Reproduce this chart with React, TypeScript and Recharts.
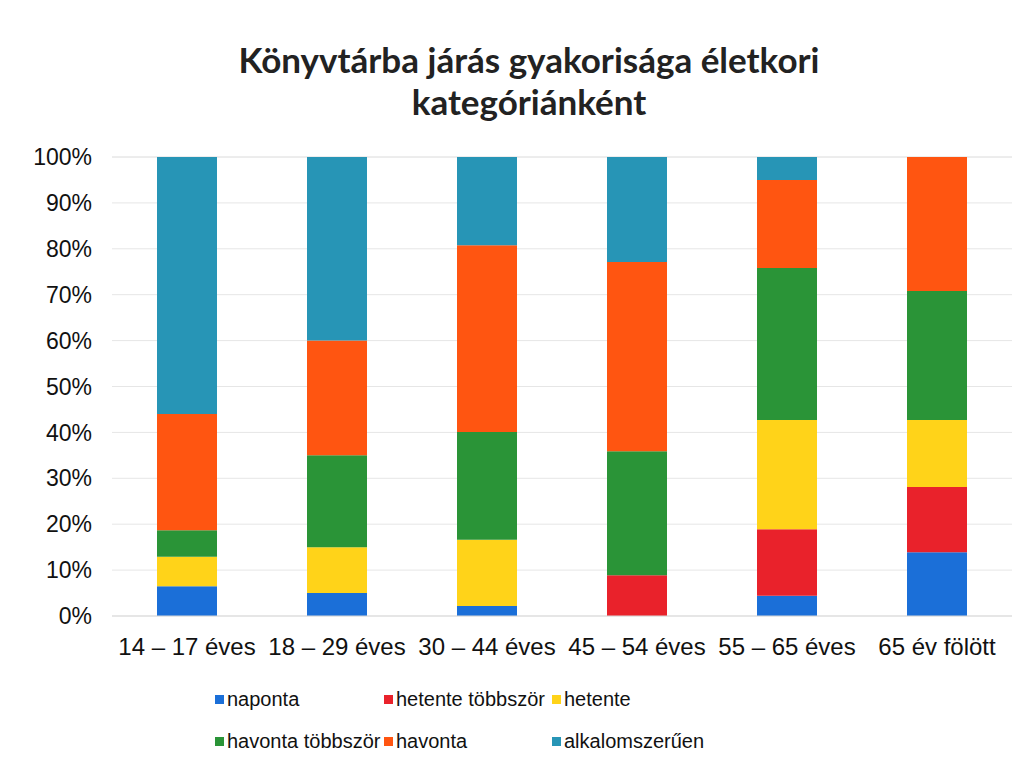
import React from "react";
import { BarChart, Bar, XAxis, YAxis, CartesianGrid } from "recharts";

const categories = ["14 – 17 éves", "18 – 29 éves", "30 – 44 éves", "45 – 54 éves", "55 – 65 éves", "65 év fölött"];
const naponta = [6.5, 5.0, 2.2, 0, 4.4, 13.9];
const hetenteTobbszor = [0, 0, 0, 8.9, 14.5, 14.2];
const hetente = [6.4, 10.0, 14.4, 0, 23.8, 14.6];
const havontaTobbszor = [5.8, 20.0, 23.5, 27.0, 33.1, 28.1];
const havonta = [25.3, 25.0, 40.7, 41.2, 19.2, 29.2];
const alkalomszeruen = [56.0, 40.0, 19.2, 22.9, 5.0, 0];
const yTicks = [0, 10, 20, 30, 40, 50, 60, 70, 80, 90, 100];

const series = [
  { key: "naponta", name: "naponta", color: "#1b6fd8" },
  { key: "hetenteTobbszor", name: "hetente többször", color: "#e9222b" },
  { key: "hetente", name: "hetente", color: "#ffd319" },
  { key: "havontaTobbszor", name: "havonta többször", color: "#2a9437" },
  { key: "havonta", name: "havonta", color: "#ff5511" },
  { key: "alkalomszeruen", name: "alkalomszerűen", color: "#2795b6" },
];

const data = categories.map((c, i) => ({
  cat: c,
  naponta: naponta[i],
  hetenteTobbszor: hetenteTobbszor[i],
  hetente: hetente[i],
  havontaTobbszor: havontaTobbszor[i],
  havonta: havonta[i],
  alkalomszeruen: alkalomszeruen[i],
}));

const font = "'Liberation Sans', Arial, sans-serif";

// legend laid out as a 3-column grid, like the original
const legendCols = [215, 384, 552];
function LegendGrid() {
  return (
    <div style={{ position: "absolute", left: 0, top: 686, width: 1030, height: 80 }}>
      {series.map((s, i) => (
        <div
          key={s.key}
          style={{
            position: "absolute",
            left: legendCols[i % 3],
            top: i < 3 ? 0 : 42,
            display: "flex",
            alignItems: "center",
            fontFamily: font,
            fontSize: 20,
            lineHeight: "26px",
            color: "#111",
            whiteSpace: "nowrap",
          }}
        >
          <span style={{ width: 9, height: 9, background: s.color, marginRight: 3, display: "inline-block" }} />
          {s.name}
        </div>
      ))}
    </div>
  );
}

export default function App() {
  return (
    <div style={{ position: "absolute", left: 0, top: 0, width: 1030, height: 763, background: "#fff" }}>
      <div
        style={{
          position: "absolute",
          top: 38,
          left: 0,
          width: 1058,
          textAlign: "center",
          fontFamily: "Lato, 'Open Sans', sans-serif",
          fontWeight: 700,
          fontSize: 35,
          lineHeight: "42px",
          color: "#222",
        }}
      >
        Könyvtárba járás gyakorisága életkori
        <br />
        kategóriánként
      </div>
      <BarChart
        width={1030}
        height={763}
        data={data}
        margin={{ top: 157, right: 18, bottom: 107, left: 0 }}
        barCategoryGap="30%"
      >
        <CartesianGrid vertical={false} stroke="#e6e6e6" />
        <XAxis
          dataKey="cat"
          height={40}
          tickLine={false}
          axisLine={{ stroke: "#d9d9d9" }}
          tick={{ fill: "#111", fontSize: 24, fontFamily: font }}
          tickMargin={16}
          interval={0}
        />
        <YAxis
          width={112}
          domain={[0, 100]}
          ticks={yTicks}
          tickFormatter={(v) => `${v}%`}
          axisLine={false}
          tickLine={false}
          tickMargin={14}
          tick={{ fill: "#111", fontSize: 23, fontFamily: font }}
        />
        {series.map((s) => (
          <Bar key={s.key} dataKey={s.key} name={s.name} stackId="a" fill={s.color} isAnimationActive={false} />
        ))}
      </BarChart>
      <LegendGrid />
    </div>
  );
}
